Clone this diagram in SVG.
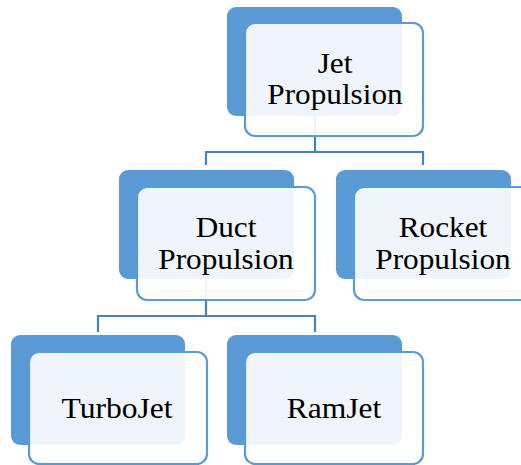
<svg xmlns="http://www.w3.org/2000/svg" width="521" height="465" viewBox="0 0 521 465">
<style>
.back{fill:#5B9BD5}
.front{fill:#FFFFFF;fill-opacity:0.9;stroke:#5B9BD5;stroke-width:2.2}
.conn{fill:none;stroke:#4A80BE;stroke-width:2.2}
text{font-family:"Liberation Serif","Times New Roman",serif;font-size:29.5px;fill:#000;text-anchor:middle}
</style>
<rect width="521" height="465" fill="#FFFFFF"/>
<g id="connectors">
<path class="conn" d="M315,116 V152 M206,165 V152 H423 V165"/>
<path class="conn" d="M206,279 V316 M98,332 V316 H315 V332"/>
</g>
<g id="jet">
<rect class="back" x="227" y="7" width="175" height="109" rx="9"/>
<rect class="front" x="245" y="23" width="178" height="113" rx="10"/>
<text transform="translate(335,73) scale(1.06,1)">Jet</text>
<text transform="translate(335,104) scale(1.06,1)">Propulsion</text>
</g>
<g id="duct">
<rect class="back" x="119" y="170" width="175" height="109" rx="9"/>
<rect class="front" x="137" y="187" width="178" height="113" rx="10"/>
<text transform="translate(226,237) scale(1.06,1)">Duct</text>
<text transform="translate(226,269) scale(1.06,1)">Propulsion</text>
</g>
<g id="rocket">
<rect class="back" x="336" y="170" width="175" height="109" rx="9"/>
<rect class="front" x="354" y="187" width="178" height="113" rx="10"/>
<text transform="translate(443,237) scale(1.06,1)">Rocket</text>
<text transform="translate(443,269) scale(1.06,1)">Propulsion</text>
</g>
<g id="turbojet">
<rect class="back" x="11" y="335" width="174" height="110" rx="9"/>
<rect class="front" x="29" y="352" width="178" height="112" rx="10"/>
<text transform="translate(117,418) scale(1.07,1)">TurboJet</text>
</g>
<g id="ramjet">
<rect class="back" x="227" y="335" width="175" height="110" rx="9"/>
<rect class="front" x="245" y="352" width="178" height="112" rx="10"/>
<text transform="translate(334,418) scale(1.07,1)">RamJet</text>
</g>
</svg>
